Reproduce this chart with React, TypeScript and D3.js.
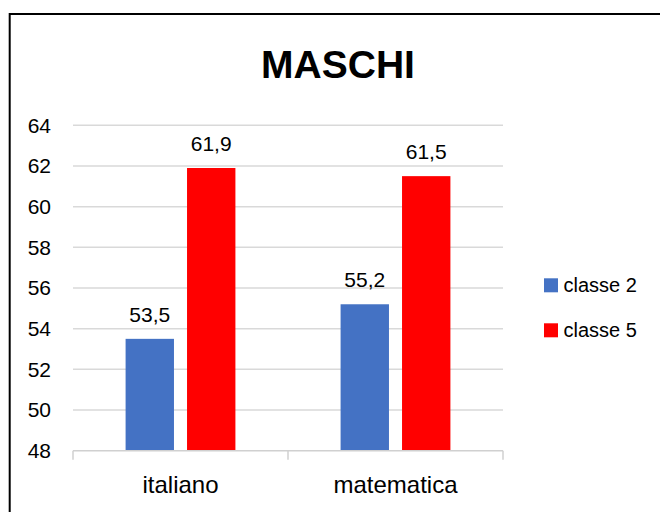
import React from 'react'
import * as d3 from 'd3'

const title = 'MASCHI'
const categories = ['italiano', 'matematica']
const seriesNames = ['classe 2', 'classe 5']
const seriesColors = ['#4472C4', '#FF0000']
const classe2 = [53.5, 55.2]
const classe5 = [61.9, 61.5]
const yTicks = [48, 50, 52, 54, 56, 58, 60, 62, 64]

const values = [classe2, classe5]
const font = '"Liberation Sans", Arial, sans-serif'

const App: React.FC = () => {
  const width = 660
  const height = 512
  const plot = { left: 73, right: 503, top: 125.3, bottom: 450.7 }

  const x = d3.scaleBand<string>()
    .domain(categories)
    .range([plot.left, plot.right])
    .padding(0)

  const y = d3.scaleLinear()
    .domain([48, 64])
    .range([plot.bottom, plot.top])

  // bar widths as in the reference cluster layout
  const barW = x.bandwidth() * 0.225
  const gap = barW * 0.27
  const clusterW = barW * 2 + gap

  const fmt = (v: number) => v.toFixed(1).replace('.', ',')

  return (
    <svg
      width={width}
      height={height}
      style={{ position: 'absolute', left: 0, top: 0, background: '#fff' }}
      fontFamily={font}
    >
      <rect x={0} y={0} width={width} height={height} fill="#fff" />
      {/* chart border */}
      <rect x={9.7} y={14} width={720} height={600} fill="none" stroke="#000" strokeWidth={2} />

      <text x={338} y={78} textAnchor="middle" fontSize={39} fontWeight="bold" fill="#000">
        {title}
      </text>

      {/* gridlines + y labels */}
      {yTicks.map(t => (
        <g key={t}>
          {t !== 48 && (
            <line x1={plot.left} x2={plot.right} y1={y(t)} y2={y(t)} stroke="#d9d9d9" strokeWidth={1.5} />
          )}
          <text x={51} y={y(t)} dy="0.35em" textAnchor="end" fontSize={21} fill="#000">
            {t}
          </text>
        </g>
      ))}

      {/* bars */}
      {categories.map((c, i) => {
        const start = (x(c) as number) + x.bandwidth() / 2 - clusterW / 2
        return values.map((s, j) => {
          const bx = start + j * (barW + gap)
          return (
            <g key={c + j}>
              <rect
                x={bx}
                y={y(s[i])}
                width={barW}
                height={y(48) - y(s[i])}
                fill={seriesColors[j]}
              />
              <text
                x={bx + barW / 2}
                y={y(s[i]) - 17}
                textAnchor="middle"
                fontSize={21}
                fill="#000"
              >
                {fmt(s[i])}
              </text>
            </g>
          )
        })
      })}

      {/* x axis */}
      <line x1={plot.left} x2={plot.right} y1={y(48)} y2={y(48)} stroke="#d0d0d0" strokeWidth={1.5} />
      {[...categories.map(c => x(c) as number), plot.right].map((tx, i) => (
        <line key={i} x1={tx} x2={tx} y1={y(48)} y2={y(48) + 9} stroke="#d0d0d0" strokeWidth={1.5} />
      ))}
      {categories.map(c => (
        <text
          key={c}
          x={(x(c) as number) + x.bandwidth() / 2}
          y={493}
          textAnchor="middle"
          fontSize={24}
          fill="#000"
        >
          {c}
        </text>
      ))}

      {/* legend */}
      {seriesNames.map((n, j) => (
        <g key={n} transform={`translate(544,${278.3 + j * 45})`}>
          <rect x={0} y={0} width={14} height={14} fill={seriesColors[j]} />
          <text x={19.5} y={13.5} fontSize={20} fill="#000">
            {n}
          </text>
        </g>
      ))}
    </svg>
  )
}

export default App
